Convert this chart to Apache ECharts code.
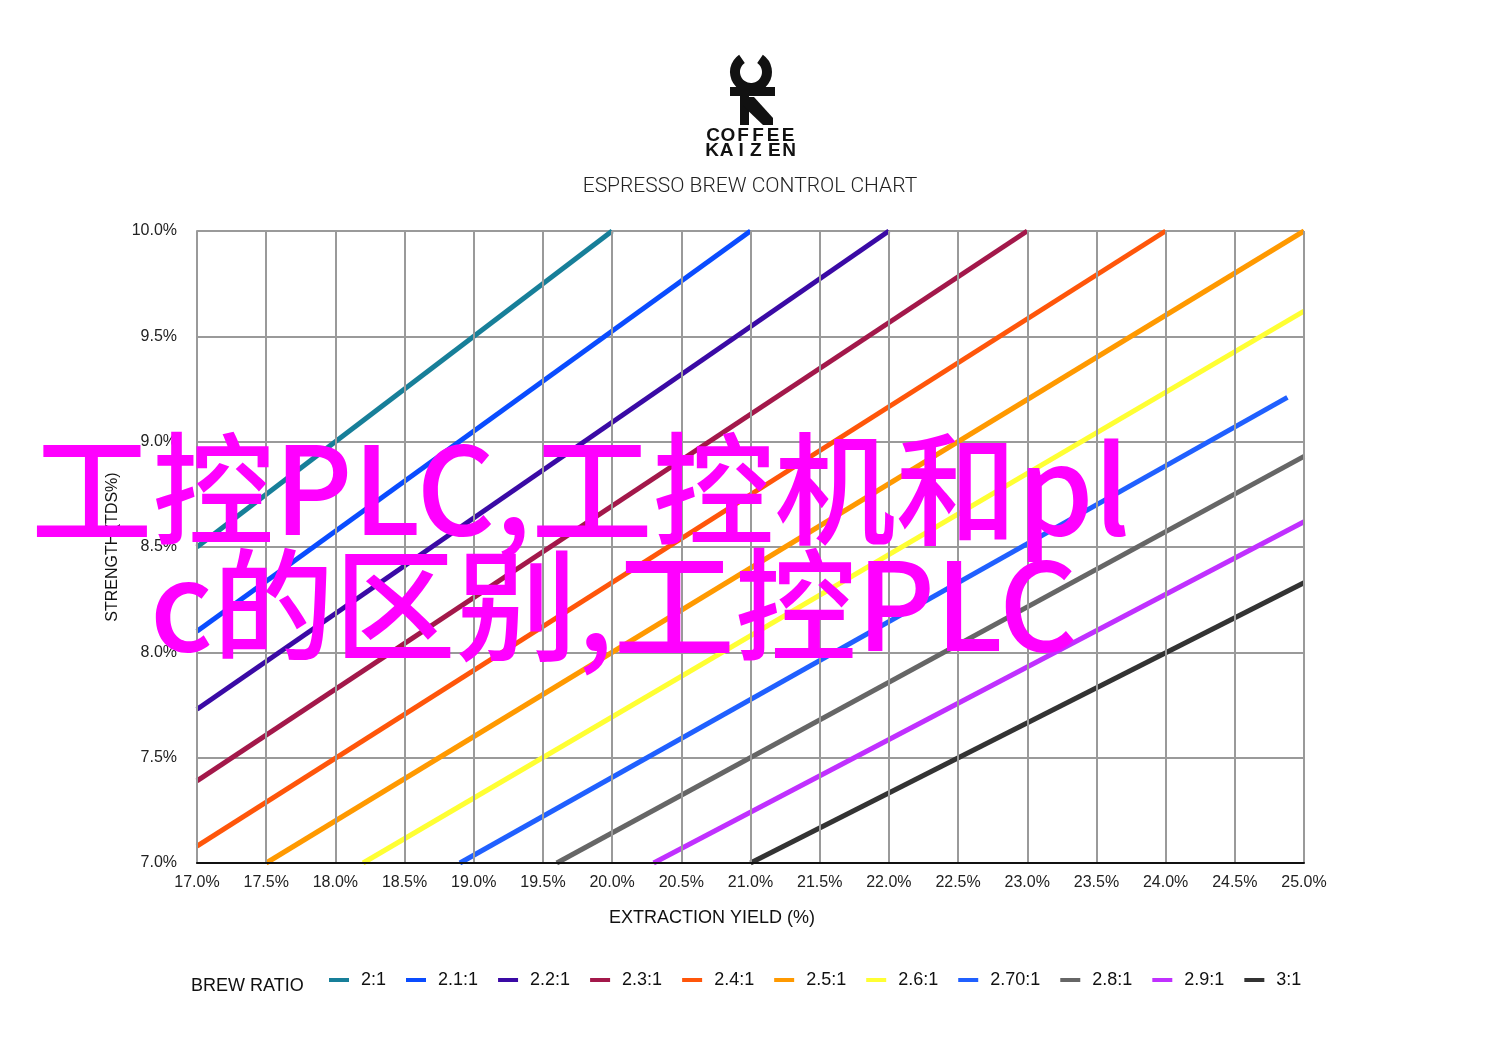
<!DOCTYPE html>
<html>
<head>
<meta charset="utf-8">
<script src="https://cdn.jsdelivr.net/npm/echarts@6/dist/echarts.min.js"></script>
<style>
html,body{margin:0;padding:0;background:#fff;}
#chart{width:1500px;height:1060px;}
</style>
</head>
<body>
<div id="chart"></div>
<script>
const ratios = ['2:1','2.1:1','2.2:1','2.3:1','2.4:1','2.5:1','2.6:1','2.70:1','2.8:1','2.9:1','3:1'];
const startYield = [17.0, 17.0, 17.0, 17.0, 17.0, 17.5, 18.2, 18.9, 19.6, 20.3, 21.0];
const startStrength = [8.5, 8.1, 7.73, 7.39, 7.08, 7.0, 7.0, 7.0, 7.0, 7.0, 7.0];
const endYield = [20.0, 21.0, 22.0, 23.0, 24.0, 25.0, 25.0, 24.88, 25.0, 25.0, 25.0];
const endStrength = [10.0, 10.0, 10.0, 10.0, 10.0, 10.0, 9.62, 9.21, 8.93, 8.62, 8.33];
const lineColors = ['#177f99','#0a4cff','#3a0aa5','#a3184a','#ff560a','#ff9900','#ffff33','#2060ff','#666666','#c030ff','#333333'];
const xTickMin = 17, xTickMax = 25, yTickMin = 7, yTickMax = 10, tickStep = 0.5;
const overlayLine1 = '工控PLC,工控机和pl';
const overlayLine2 = 'c的区别,工控PLC';

const chart = echarts.init(document.getElementById('chart'));

const series = ratios.map((name, i) => ({
  name: name,
  type: 'line',
  symbol: 'none',
  data: [[startYield[i], startStrength[i]], [endYield[i], endStrength[i]]],
  lineStyle: { width: 5, color: lineColors[i] },
  itemStyle: { color: lineColors[i] },
  z: 3
}));

function letters(str, x0, pitch, y, gapAfter) {
  const out = [];
  let x = x0;
  for (let i = 0; i < str.length; i++) {
    out.push({
      type: 'text', x: x, y: y,
      style: { text: str[i], font: '900 19px "Liberation Sans", Arial, sans-serif', fill: '#111', align: 'center', verticalAlign: 'middle' }
    });
    x += pitch + ((gapAfter !== undefined && gapAfter === i) ? 4 : 0);
  }
  return out;
}

const graphics = [
  // logo ring
  { type: 'arc', shape: { cx: 751, cy: 72, r: 16, startAngle: -Math.PI/2 + 0.6, endAngle: 3*Math.PI/2 - 0.6, clockwise: true },
    style: { stroke: '#111', lineWidth: 10, fill: null } },
  { type: 'rect', shape: { x: 730, y: 87, width: 45, height: 9 }, style: { fill: '#111' } },
  { type: 'rect', shape: { x: 740, y: 96, width: 9, height: 29 }, style: { fill: '#111' } },
  { type: 'polygon', shape: { points: [[741,97],[754,97],[773,118],[773,125],[763,125],[741,104]] }, style: { fill: '#111' } },
  ...letters('COFFEE', 713, 15, 136),
  ...letters('KAIZEN', 712, 14.6, 151, 3),
  { type: 'text', x: 750, y: 187,
    style: { text: 'ESPRESSO BREW CONTROL CHART', font: '300 21px Roboto, sans-serif', fill: '#222', align: 'center', verticalAlign: 'middle' } },
  { type: 'text', x: 712, y: 918,
    style: { text: 'EXTRACTION YIELD (%)', font: '18px "Liberation Sans", Arial, sans-serif', fill: '#111', align: 'center', verticalAlign: 'middle' } },
  { type: 'text', x: 113, y: 547, rotation: Math.PI/2,
    style: { text: 'STRENGTH (TDS%)', font: '16px "Liberation Sans", Arial, sans-serif', fill: '#111', align: 'center', verticalAlign: 'middle' } },
  { type: 'text', x: 191, y: 986,
    style: { text: 'BREW RATIO', font: '18px "Liberation Sans", Arial, sans-serif', fill: '#111', align: 'left', verticalAlign: 'middle' } },
  { type: 'text', x: 31, y: 489, z: 100,
    style: { text: overlayLine1, font: '500 121.5px "Noto Sans CJK SC", sans-serif', fill: '#ff00ff', align: 'left', verticalAlign: 'middle' } },
  { type: 'text', x: 150, y: 605, z: 100,
    style: { text: overlayLine2, font: '500 121.5px "Noto Sans CJK SC", sans-serif', fill: '#ff00ff', align: 'left', verticalAlign: 'middle' } }
];

chart.setOption({
  animation: false,
  backgroundColor: '#fff',
  grid: { left: 197, right: 196, top: 231, bottom: 197, containLabel: false },
  legend: {
    left: 324, top: 966,
    icon: 'rect', itemWidth: 20, itemHeight: 4, itemGap: 20,
    data: ratios,
    textStyle: { fontSize: 18, color: '#111', fontFamily: '"Liberation Sans", Arial, sans-serif', padding: [0,0,0,7] }
  },
  xAxis: {
    type: 'value', min: xTickMin, max: xTickMax, interval: tickStep,
    axisLine: { show: true, lineStyle: { color: '#111', width: 2 } },
    axisTick: { show: false },
    axisLabel: { formatter: v => v.toFixed(1) + '%', fontSize: 16, color: '#222', margin: 12, fontFamily: '"Liberation Sans", Arial, sans-serif' },
    splitLine: { show: true, lineStyle: { color: '#9a9a9a', width: 2 } },
    z: 5
  },
  yAxis: {
    type: 'value', min: yTickMin, max: yTickMax, interval: tickStep,
    axisLine: { show: true, lineStyle: { color: '#9a9a9a', width: 2 } },
    axisTick: { show: false },
    axisLabel: { formatter: v => v.toFixed(1) + '%', fontSize: 16, color: '#222', margin: 20, padding: [3,0,0,0], fontFamily: '"Liberation Sans", Arial, sans-serif' },
    splitLine: { show: true, lineStyle: { color: '#9a9a9a', width: 2 } }
  },
  graphic: graphics,
  series: series
});
</script>
</body>
</html>
